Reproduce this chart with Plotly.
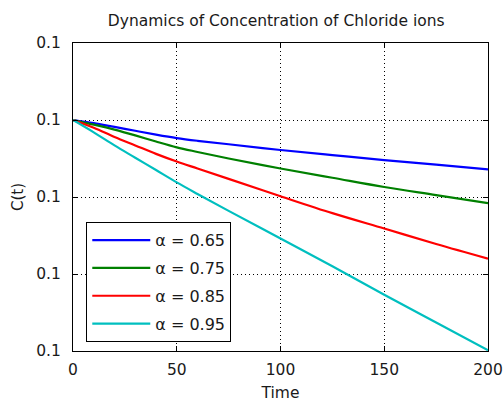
import plotly.graph_objects as go

# ---- data ----
time = [0, 10, 20, 30, 40, 50, 60, 75, 100, 125, 150, 175, 200]
alphas = [0.65, 0.75, 0.85, 0.95]
c_065 = [0.1000000, 0.0999996, 0.0999991, 0.0999986, 0.0999981, 0.09999765, 0.0999973, 0.09999685, 0.0999961, 0.09999545, 0.0999948, 0.0999942, 0.0999936]
c_075 = [0.1000000, 0.0999994, 0.09999875, 0.0999980, 0.0999972, 0.09999645, 0.09999585, 0.0999950, 0.0999937, 0.0999925, 0.0999913, 0.09999025, 0.0999892]
c_085 = [0.1000000, 0.0999990, 0.0999978, 0.0999967, 0.0999956, 0.0999946, 0.0999937, 0.09999235, 0.0999901, 0.0999879, 0.0999859, 0.0999839, 0.0999820]
c_095 = [0.1000000, 0.0999984, 0.0999967, 0.0999951, 0.0999935, 0.0999919, 0.0999904, 0.0999882, 0.0999846, 0.0999810, 0.0999773, 0.0999737, 0.0999701]
y_ticks = [0.09997, 0.09998, 0.09999, 0.10000, 0.10001]
x_ticks = [0, 50, 100, 150, 200]
colors = ["#0000ff", "#008000", "#ff0000", "#00bfbf"]

series = [c_065, c_075, c_085, c_095]
font = "DejaVu Sans, sans-serif"

fig = go.Figure()
for i, (a, c, col) in enumerate(zip(alphas, series, colors)):
    fig.add_trace(go.Scatter(
        x=time, y=c, mode="lines", name=f"α = {a:.2f}",
        legendgroup=f"g{i}", line_shape="spline",
        line=dict(color=col, width=2.2),
    ))

fig.update_layout(
    width=504, height=405,
    margin=dict(l=73, r=16, t=43, b=54, autoexpand=False),
    paper_bgcolor="white", plot_bgcolor="white",
    font=dict(family=font, size=15, color="#1a1a1a"),
    title=dict(text="Dynamics of Concentration of Chloride ions",
               x=0.548, xanchor="center", y=0.948, yanchor="middle",
               font=dict(size=15.5, family=font), automargin=False),
    showlegend=True,
    legend=dict(x=0.032, y=0.418, xanchor="left", yanchor="top",
                bgcolor="white", bordercolor="black", borderwidth=1,
                font=dict(size=16, family=font), itemwidth=58,
                tracegroupgap=4),
)
fig.update_xaxes(
    range=[0, 200], tickvals=x_ticks, ticktext=[str(v) for v in x_ticks],
    showline=True, linecolor="black", linewidth=1, mirror="ticks",
    ticks="inside", ticklen=5, tickcolor="black", automargin=False,
    showgrid=True, gridcolor="black", gridwidth=1, griddash="1px,3px",
    zeroline=False, ticklabelstandoff=4,
    title=dict(text="Time", standoff=9, font=dict(size=15.5)),
    tickfont=dict(size=15.5),
)
fig.update_yaxes(
    range=[y_ticks[0], y_ticks[-1]], tickvals=y_ticks,
    ticktext=[f"{v:.1f}" for v in y_ticks],
    showline=True, linecolor="black", linewidth=1, mirror="ticks",
    ticks="inside", ticklen=5, tickcolor="black", automargin=False,
    showgrid=True, gridcolor="black", gridwidth=1, griddash="1px,3px",
    zeroline=False, ticklabelstandoff=8,
    title=dict(text="C(t)", standoff=8, font=dict(size=15)),
    tickfont=dict(size=15.5),
)
fig.write_html("out.html")
